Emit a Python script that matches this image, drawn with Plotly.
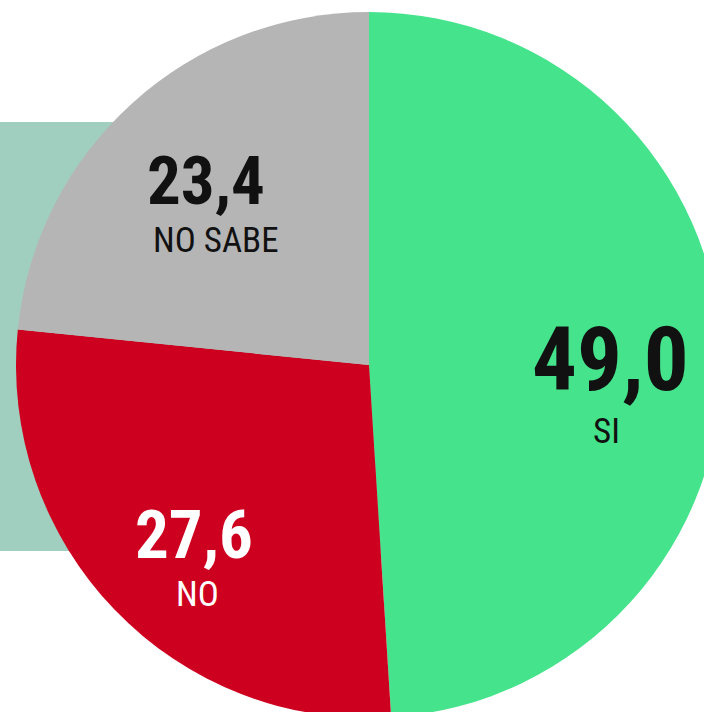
import plotly.graph_objects as go

# ---- data ----
labels = ["SI", "NO", "NO SABE"]
values = [49.0, 27.6, 23.4]
colors = ["#45E38C", "#CE0020", "#B5B5B5"]
value_text_colors = ["#111111", "#FFFFFF", "#111111"]

# ---- layout constants (pixels) ----
W, H = 740, 740
CX, CY, R = 369, 365, 353


def px(x):
    return x / W


def py(y):
    return 1 - y / H


fig = go.Figure()
fig.add_trace(go.Pie(
    labels=labels,
    values=values,
    sort=False,
    direction="clockwise",
    rotation=0,
    marker=dict(colors=colors, line=dict(width=0)),
    textinfo="none",
    hoverinfo="skip",
    showlegend=False,
    domain=dict(x=[px(CX - R), px(CX + R)], y=[py(CY + R), py(CY - R)]),
))

num_font = "Roboto Condensed, Roboto, Liberation Sans, sans-serif"

# label positions (pixel centres) for value & name
value_pos = [(610, 359, 89), (194, 535, 67), (206, 181, 67)]
name_pos = [(606, 431), (197, 594), (216, 240)]

annotations = []
for i, lab in enumerate(labels):
    vx, vy, vs = value_pos[i]
    nx, ny = name_pos[i]
    annotations.append(dict(
        x=px(vx), y=py(vy), xref="paper", yref="paper",
        xanchor="center", yanchor="middle", showarrow=False,
        text="<b>" + f"{values[i]:.1f}".replace(".", ",") + "</b>",
        font=dict(family=num_font, size=vs, color=value_text_colors[i]),
    ))
    annotations.append(dict(
        x=px(nx), y=py(ny), xref="paper", yref="paper",
        xanchor="center", yanchor="middle", showarrow=False,
        text=lab,
        font=dict(family=num_font, size=35, color=value_text_colors[i]),
    ))

fig.update_layout(
    width=W, height=H, autosize=False,
    margin=dict(l=0, r=0, t=0, b=0),
    paper_bgcolor="white", plot_bgcolor="white",
    shapes=[dict(
        type="rect", xref="paper", yref="paper", layer="below",
        x0=0, x1=px(420), y0=py(551), y1=py(122),
        fillcolor="#A0CFBF", line=dict(width=0),
    )],
    annotations=annotations,
)

fig.write_html(
    "out.html",
    config={"displayModeBar": False},
    post_script="document.body.style.margin='0';"
                "document.body.style.overflow='hidden';"
                "document.documentElement.style.overflow='hidden';",
)
